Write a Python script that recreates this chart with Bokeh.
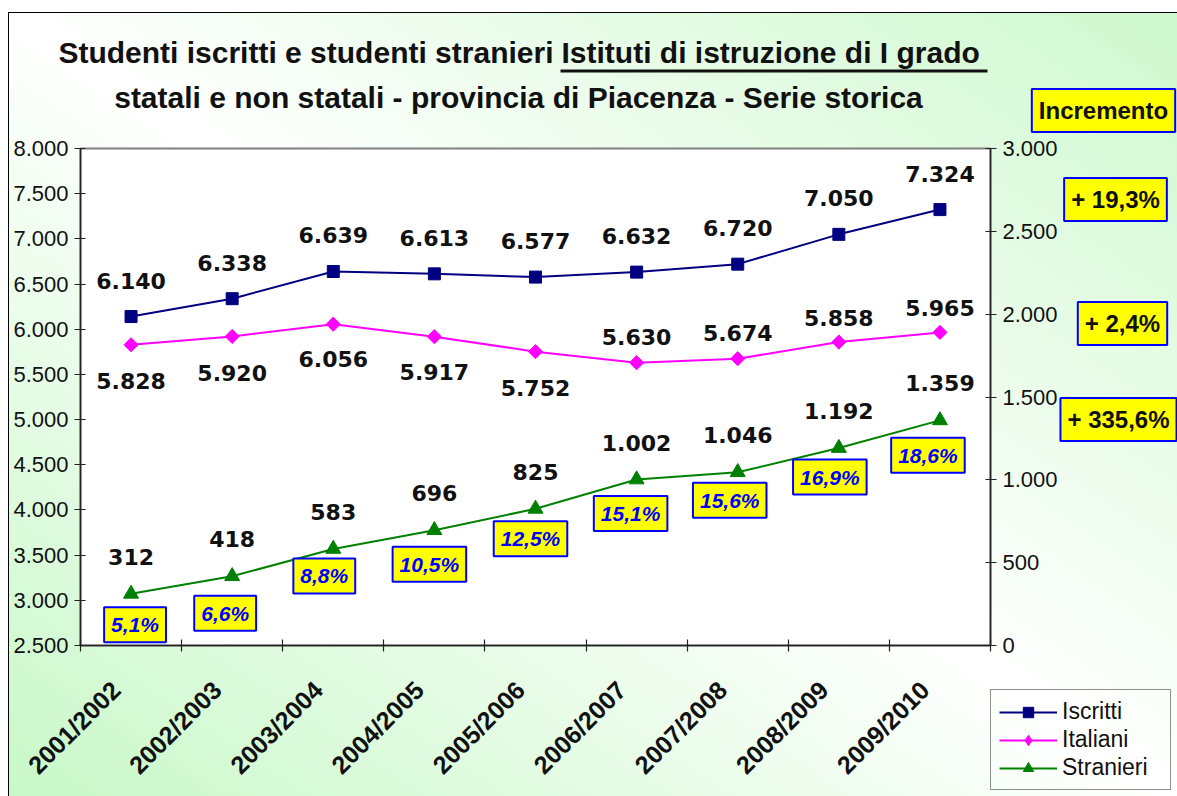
import math
from bokeh.plotting import figure
from bokeh.models import (Range1d, LinearAxis, FixedTicker, ColumnDataSource, LabelSet, Label,
                          Legend, LegendItem, BoxAnnotation)
from bokeh.core.properties import value
from bokeh.embed import file_html
from bokeh.resources import INLINE

# ---------------- data ----------------
CATEGORIES = ["2001/2002", "2002/2003", "2003/2004", "2004/2005", "2005/2006",
              "2006/2007", "2007/2008", "2008/2009", "2009/2010"]
ISCRITTI = [6140, 6338, 6639, 6613, 6577, 6632, 6720, 7050, 7324]
ITALIANI = [5828, 5920, 6056, 5917, 5752, 5630, 5674, 5858, 5965]
STRANIERI = [312, 418, 583, 696, 825, 1002, 1046, 1192, 1359]
ISCRITTI_LABELS = ["6.140", "6.338", "6.639", "6.613", "6.577", "6.632", "6.720", "7.050", "7.324"]
ITALIANI_LABELS = ["5.828", "5.920", "6.056", "5.917", "5.752", "5.630", "5.674", "5.858", "5.965"]
STRANIERI_LABELS = ["312", "418", "583", "696", "825", "1.002", "1.046", "1.192", "1.359"]
QUOTA_STRANIERI = ["5,1%", "6,6%", "8,8%", "10,5%", "12,5%", "15,1%", "15,6%", "16,9%", "18,6%"]
INCREMENTI = ["+ 19,3%", "+ 2,4%", "+ 335,6%"]
LEFT_TICKS = [2500, 3000, 3500, 4000, 4500, 5000, 5500, 6000, 6500, 7000, 7500, 8000]
LEFT_TICK_LABELS = ["2.500", "3.000", "3.500", "4.000", "4.500", "5.000", "5.500",
                    "6.000", "6.500", "7.000", "7.500", "8.000"]
RIGHT_TICKS = [0, 500, 1000, 1500, 2000, 2500, 3000]
RIGHT_TICK_LABELS = ["0", "500", "1.000", "1.500", "2.000", "2.500", "3.000"]
SERIES_NAMES = ["Iscritti", "Italiani", "Stranieri"]
TITLE_PART_1 = "Studenti iscritti e studenti stranieri"
TITLE_PART_2 = "Istituti di istruzione di I grado"
TITLE_LINE_2 = "statali e non statali - provincia di Piacenza - Serie storica"

# ---------------- layout / style ----------------
W, H = 1177, 796
FL, FR, FT, FB = 80, 990, 148, 645          # frame edges in canvas pixels
LABEL_SHIFT = 0.15                           # category label nudge (in category widths)

ITALIANI_LABEL_OFFSETS = [-36, -37, -35, -35, -36, 26, 26, 24, 24]
PCT_DX = [4, -7, -9, -5, -5, -6, -8, -9, -12]
PCT_DY = [31, 37, 27, 34, 30, 34, 28, 29, 35]
COLORS = ["#000080", "#ff00ff", "#008000"]

SANS = "Liberation Sans"
VERD = "DejaVu Sans"

n = len(CATEGORIES)
xs = list(range(n))

# ================= main chart =================
p = figure(width=W, height=H, x_range=Range1d(-0.5, n - 0.5), y_range=Range1d(2500, 8000),
           output_backend="svg", toolbar_location=None,
           min_border_left=FL, min_border_right=W - FR, min_border_top=FT, min_border_bottom=H - FB,
           background_fill_color="white", border_fill_color=None,
           outline_line_color="#808080", outline_line_width=2)
p.title.visible = False
p.styles = {
    "background": "linear-gradient(#000,#000) 8px 12px/100% 1px no-repeat, "
                  "linear-gradient(#000,#000) 8px 12px/1px 100% no-repeat, "
                  "linear-gradient(to top right, #c8f8c8 0%, #ffffff 50%, #cef8ce 100%) "
                  "8px 12px/calc(100% - 8px) calc(100% - 12px) no-repeat, #ffffff"
}
p.xgrid.visible = False
p.ygrid.visible = False
p.extra_y_ranges = {"right": Range1d(0, 3000)}


def style_y(ax):
    ax.minor_tick_line_color = None
    ax.major_tick_in = 5
    ax.major_tick_out = 6
    ax.axis_line_width = 1.5
    ax.major_tick_line_width = 1.2
    ax.axis_line_color = "#222222"
    ax.major_tick_line_color = "#222222"
    ax.major_label_text_font = SANS
    ax.major_label_text_font_size = "22px"
    ax.major_label_text_color = "#111111"
    ax.major_label_standoff = 6


ya = p.yaxis[0]
ya.ticker = FixedTicker(ticks=LEFT_TICKS)
ya.major_label_overrides = dict(zip(LEFT_TICKS, LEFT_TICK_LABELS))
style_y(ya)
yr = LinearAxis(y_range_name="right", ticker=FixedTicker(ticks=RIGHT_TICKS),
                major_label_overrides=dict(zip(RIGHT_TICKS, RIGHT_TICK_LABELS)))
style_y(yr)
p.add_layout(yr, "right")

# x axis: boundary ticks (no labels)
xa = p.xaxis[0]
bounds = [i - 0.5 for i in range(n + 1)]
xa.ticker = FixedTicker(ticks=bounds)
xa.major_label_overrides = {b: "" for b in bounds}
xa.major_label_text_font_size = "0px"
xa.minor_tick_line_color = None
xa.major_tick_in = 6
xa.major_tick_out = 6
xa.axis_line_width = 1.5
xa.axis_line_color = "#222222"
xa.major_tick_line_color = "#222222"
xa.major_tick_line_width = 1.2

# x axis: category labels
label_ticks = [x - LABEL_SHIFT for x in xs]
xc = LinearAxis(ticker=FixedTicker(ticks=label_ticks),
                major_label_overrides=dict(zip(label_ticks, CATEGORIES)),
                major_label_orientation=math.pi / 4, axis_line_color=None,
                major_tick_line_color=None, minor_tick_line_color=None,
                major_label_text_font=SANS, major_label_text_font_style="bold",
                major_label_text_font_size="25px", major_label_text_color="#111111",
                major_label_standoff=28)
p.add_layout(xc, "below")

src = ColumnDataSource(dict(x=xs, iscritti=ISCRITTI, italiani=ITALIANI, stranieri=STRANIERI,
                            isc_lab=ISCRITTI_LABELS, ita_lab=ITALIANI_LABELS, str_lab=STRANIERI_LABELS,
                            ita_off=ITALIANI_LABEL_OFFSETS))

MARKERS = [dict(marker="square", size=12, angle=0.0),
           dict(marker="square", size=10, angle=math.pi / 4),
           dict(marker="triangle", size=15, angle=0.0)]
LEGEND_MARKERS = [dict(marker="square", size=12),
                  dict(marker="diamond", size=16),
                  dict(marker="triangle", size=15)]

p.line("x", "iscritti", source=src, line_color=COLORS[0], line_width=2)
p.scatter("x", "iscritti", source=src, fill_color=COLORS[0], line_color=COLORS[0], **MARKERS[0])
p.line("x", "italiani", source=src, line_color=COLORS[1], line_width=2)
p.scatter("x", "italiani", source=src, fill_color=COLORS[1], line_color=COLORS[1], **MARKERS[1])
p.line("x", "stranieri", source=src, line_color=COLORS[2], line_width=2, y_range_name="right")
p.scatter("x", "stranieri", source=src, fill_color=COLORS[2], line_color=COLORS[2],
          y_range_name="right", **MARKERS[2])

lab_kw = dict(source=src, text_align="center", text_baseline="middle", text_font=value(VERD),
              text_font_style="bold", text_font_size="22px", text_color="#111111")
p.add_layout(LabelSet(x="x", y="iscritti", text="isc_lab", y_offset=36, **lab_kw))
p.add_layout(LabelSet(x="x", y="italiani", text="ita_lab", y_offset="ita_off", **lab_kw))
p.add_layout(LabelSet(x="x", y="stranieri", text="str_lab", y_offset=37, y_range_name="right", **lab_kw))

for i in range(n):
    p.add_layout(Label(x=xs[i], y=STRANIERI[i], y_range_name="right", x_offset=PCT_DX[i],
                       y_offset=-PCT_DY[i], text=QUOTA_STRANIERI[i], text_align="center",
                       text_baseline="middle", text_font=SANS, text_font_style="bold italic",
                       text_font_size="21px", text_color="#0000ff",
                       background_fill_color="#ffff00", border_line_color="#0000ff",
                       border_line_width=2, padding=dict(left=7, right=7, top=6, bottom=6)))

# ================= overlay: title, increments, legend =================
o = figure(width=W, height=H, x_range=Range1d(0, W), y_range=Range1d(H, 0),
           output_backend="svg", toolbar_location=None, min_border=0,
           x_axis_location=None, y_axis_location=None,
           background_fill_color=None, border_fill_color=None, outline_line_color=None)
o.title.visible = False
o.xgrid.visible = False
o.ygrid.visible = False
o.styles = {"position": "absolute", "top": "0px", "left": "0px"}

title_kw = dict(text_font=SANS, text_font_style="bold", text_font_size="30px",
                text_color="#111111", text_baseline="middle")
o.add_layout(Label(x=553, y=52, text=TITLE_PART_1, text_align="right", **title_kw))
o.add_layout(Label(x=561, y=52, text=TITLE_PART_2, text_align="left", **title_kw))
o.add_layout(Label(x=518, y=97, text=TITLE_LINE_2, text_align="center", **title_kw))
o.add_layout(BoxAnnotation(left=560, right=987, top=69, bottom=72, fill_color="#111111",
                           fill_alpha=1, line_color=None))

box_kw = dict(text_font=SANS, text_font_style="bold", text_font_size="24px", text_color="#111111",
              text_align="center", text_baseline="middle", background_fill_color="#ffff00",
              border_line_color="#0000ff", border_line_width=2,
              padding=dict(left=7, right=7, top=8, bottom=8))
o.add_layout(Label(x=1103, y=110, text="Incremento", **box_kw))
for txt, (bx, by) in zip(INCREMENTI, [(1115, 199), (1122, 323), (1118, 419)]):
    o.add_layout(Label(x=bx, y=by, text=txt, **box_kw))

# legend built from off-canvas proxy glyphs sharing the series styles
items = []
for name, col, mk in zip(SERIES_NAMES, COLORS, LEGEND_MARKERS):
    ln = o.line(x=[-100, -90], y=[-100, -100], line_color=col, line_width=2)
    sc = o.scatter(x=[-100], y=[-100], fill_color=col, line_color=col, **mk)
    items.append(LegendItem(label=name, renderers=[ln, sc]))
legend = Legend(items=items, location=(990, H - 790),
                label_text_font=SANS, label_text_font_size="23px", label_text_color="#111111",
                glyph_width=58, glyph_height=26, label_height=26, label_width=100,
                label_standoff=5, spacing=1, padding=8, margin=0,
                border_line_color="#222222", border_line_width=1.2,
                background_fill_alpha=0)
o.add_layout(legend)

open("out.html", "w").write(file_html([p, o], INLINE))
